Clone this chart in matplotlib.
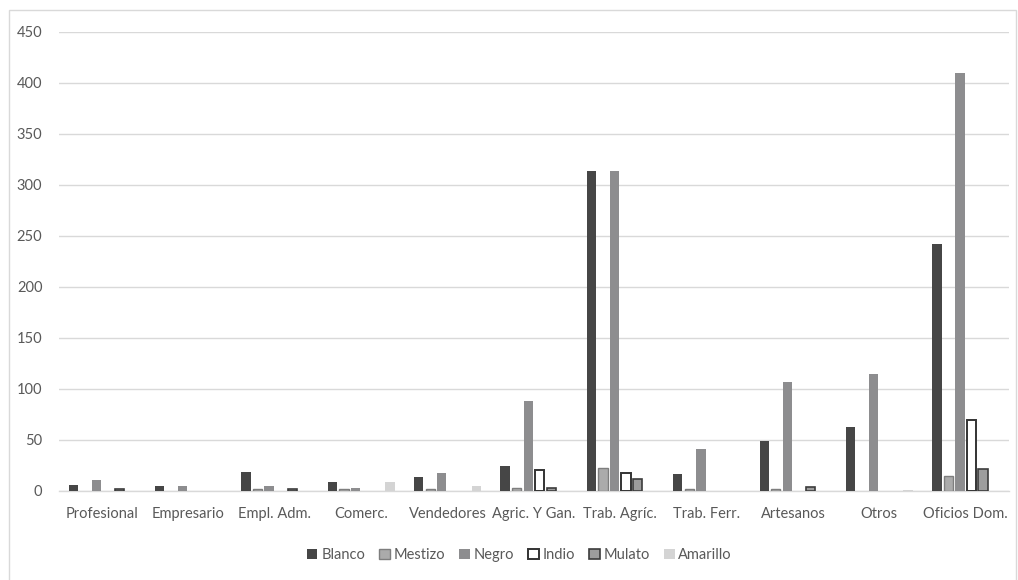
import matplotlib
matplotlib.use("Agg")
import matplotlib.pyplot as plt
from matplotlib.patches import Rectangle
import numpy as np

categories = ["Profesional", "Empresario", "Empl. Adm.", "Comerc.", "Vendedores",
              "Agric. Y Gan.", "Trab. Agríc.", "Trab. Ferr.", "Artesanos", "Otros",
              "Oficios Dom."]
series_names = ["Blanco", "Mestizo", "Negro", "Indio", "Mulato", "Amarillo"]

blanco   = [6, 5, 18, 9, 13, 24, 314, 16, 49, 62, 242]
mestizo  = [0, 0, 2, 2, 2, 3, 22, 2, 2, 0, 14]
negro    = [10, 5, 5, 3, 17, 88, 314, 41, 107, 114, 410]
indio    = [0, 0, 0, 0, 0, 20, 17, 0, 0, 0, 69]
mulato   = [2, 0, 2, 0, 0, 3, 11, 0, 4, 0, 21]
amarillo = [0, 0, 0, 9, 5, 0, 0, 0, 0, 1, 0]

yticks = [0, 50, 100, 150, 200, 250, 300, 350, 400, 450]

series = [blanco, mestizo, negro, indio, mulato, amarillo]
faces = ["#464646", "#ababab", "#8d8d8f", "#ffffff", "#9d9d9d", "#d4d4d4"]
edges = ["#464646", "#7e7e7e", "#8d8d8f", "#333333", "#3c3c3c", "#d4d4d4"]
lws = [0, 1.0, 0, 1.4, 1.2, 0]

plt.rcParams["font.family"] = ["Lato", "DejaVu Sans"]
text_color = "#595959"

fig = plt.figure(figsize=(10.18, 5.8), dpi=100)
ax = fig.add_axes([0.058, 0.154, 0.933, 0.791])

x = np.arange(len(categories))
step = 0.1334
width = 0.108
for i, (vals, fc, ec, lw, name) in enumerate(zip(series, faces, edges, lws, series_names)):
    vals = np.asarray(vals, dtype=float)
    keep = vals > 0  # empty categories get no bar outline
    ax.bar(x[keep] + (i - 2.5) * step, vals[keep], width=width, color=fc,
           edgecolor=ec, linewidth=lw, label=name, zorder=3)

ax.set_xlim(-0.5, len(categories) - 0.5)
ax.set_ylim(0, 450)
ax.set_yticks(yticks)
ax.set_xticks(x)
ax.set_xticklabels(categories)
ax.yaxis.grid(True, color="#d9d9d9", linewidth=1.0, zorder=0)
ax.set_axisbelow(True)
for s in ["top", "right", "left"]:
    ax.spines[s].set_visible(False)
ax.spines["bottom"].set_color("#d9d9d9")
ax.spines["bottom"].set_linewidth(1.0)
ax.tick_params(axis="both", length=0, labelsize=10.5, colors=text_color)
ax.tick_params(axis="x", pad=12)
ax.tick_params(axis="y", pad=12)

leg = fig.legend(loc="center", bbox_to_anchor=(0.51, 0.043), ncol=6, frameon=False,
                 fontsize=10.5, handlelength=0.75, handleheight=0.75,
                 handletextpad=0.25, columnspacing=0.95)
for t in leg.get_texts():
    t.set_color(text_color)

# light frame around the whole chart area
fig.patches.append(Rectangle((9 / 1018, -0.02), 1007 / 1018, 1 - 10 / 580 + 0.02,
                             transform=fig.transFigure, fill=False,
                             edgecolor="#d9d9d9", linewidth=1.0))

fig.savefig("out.png", dpi=100)
